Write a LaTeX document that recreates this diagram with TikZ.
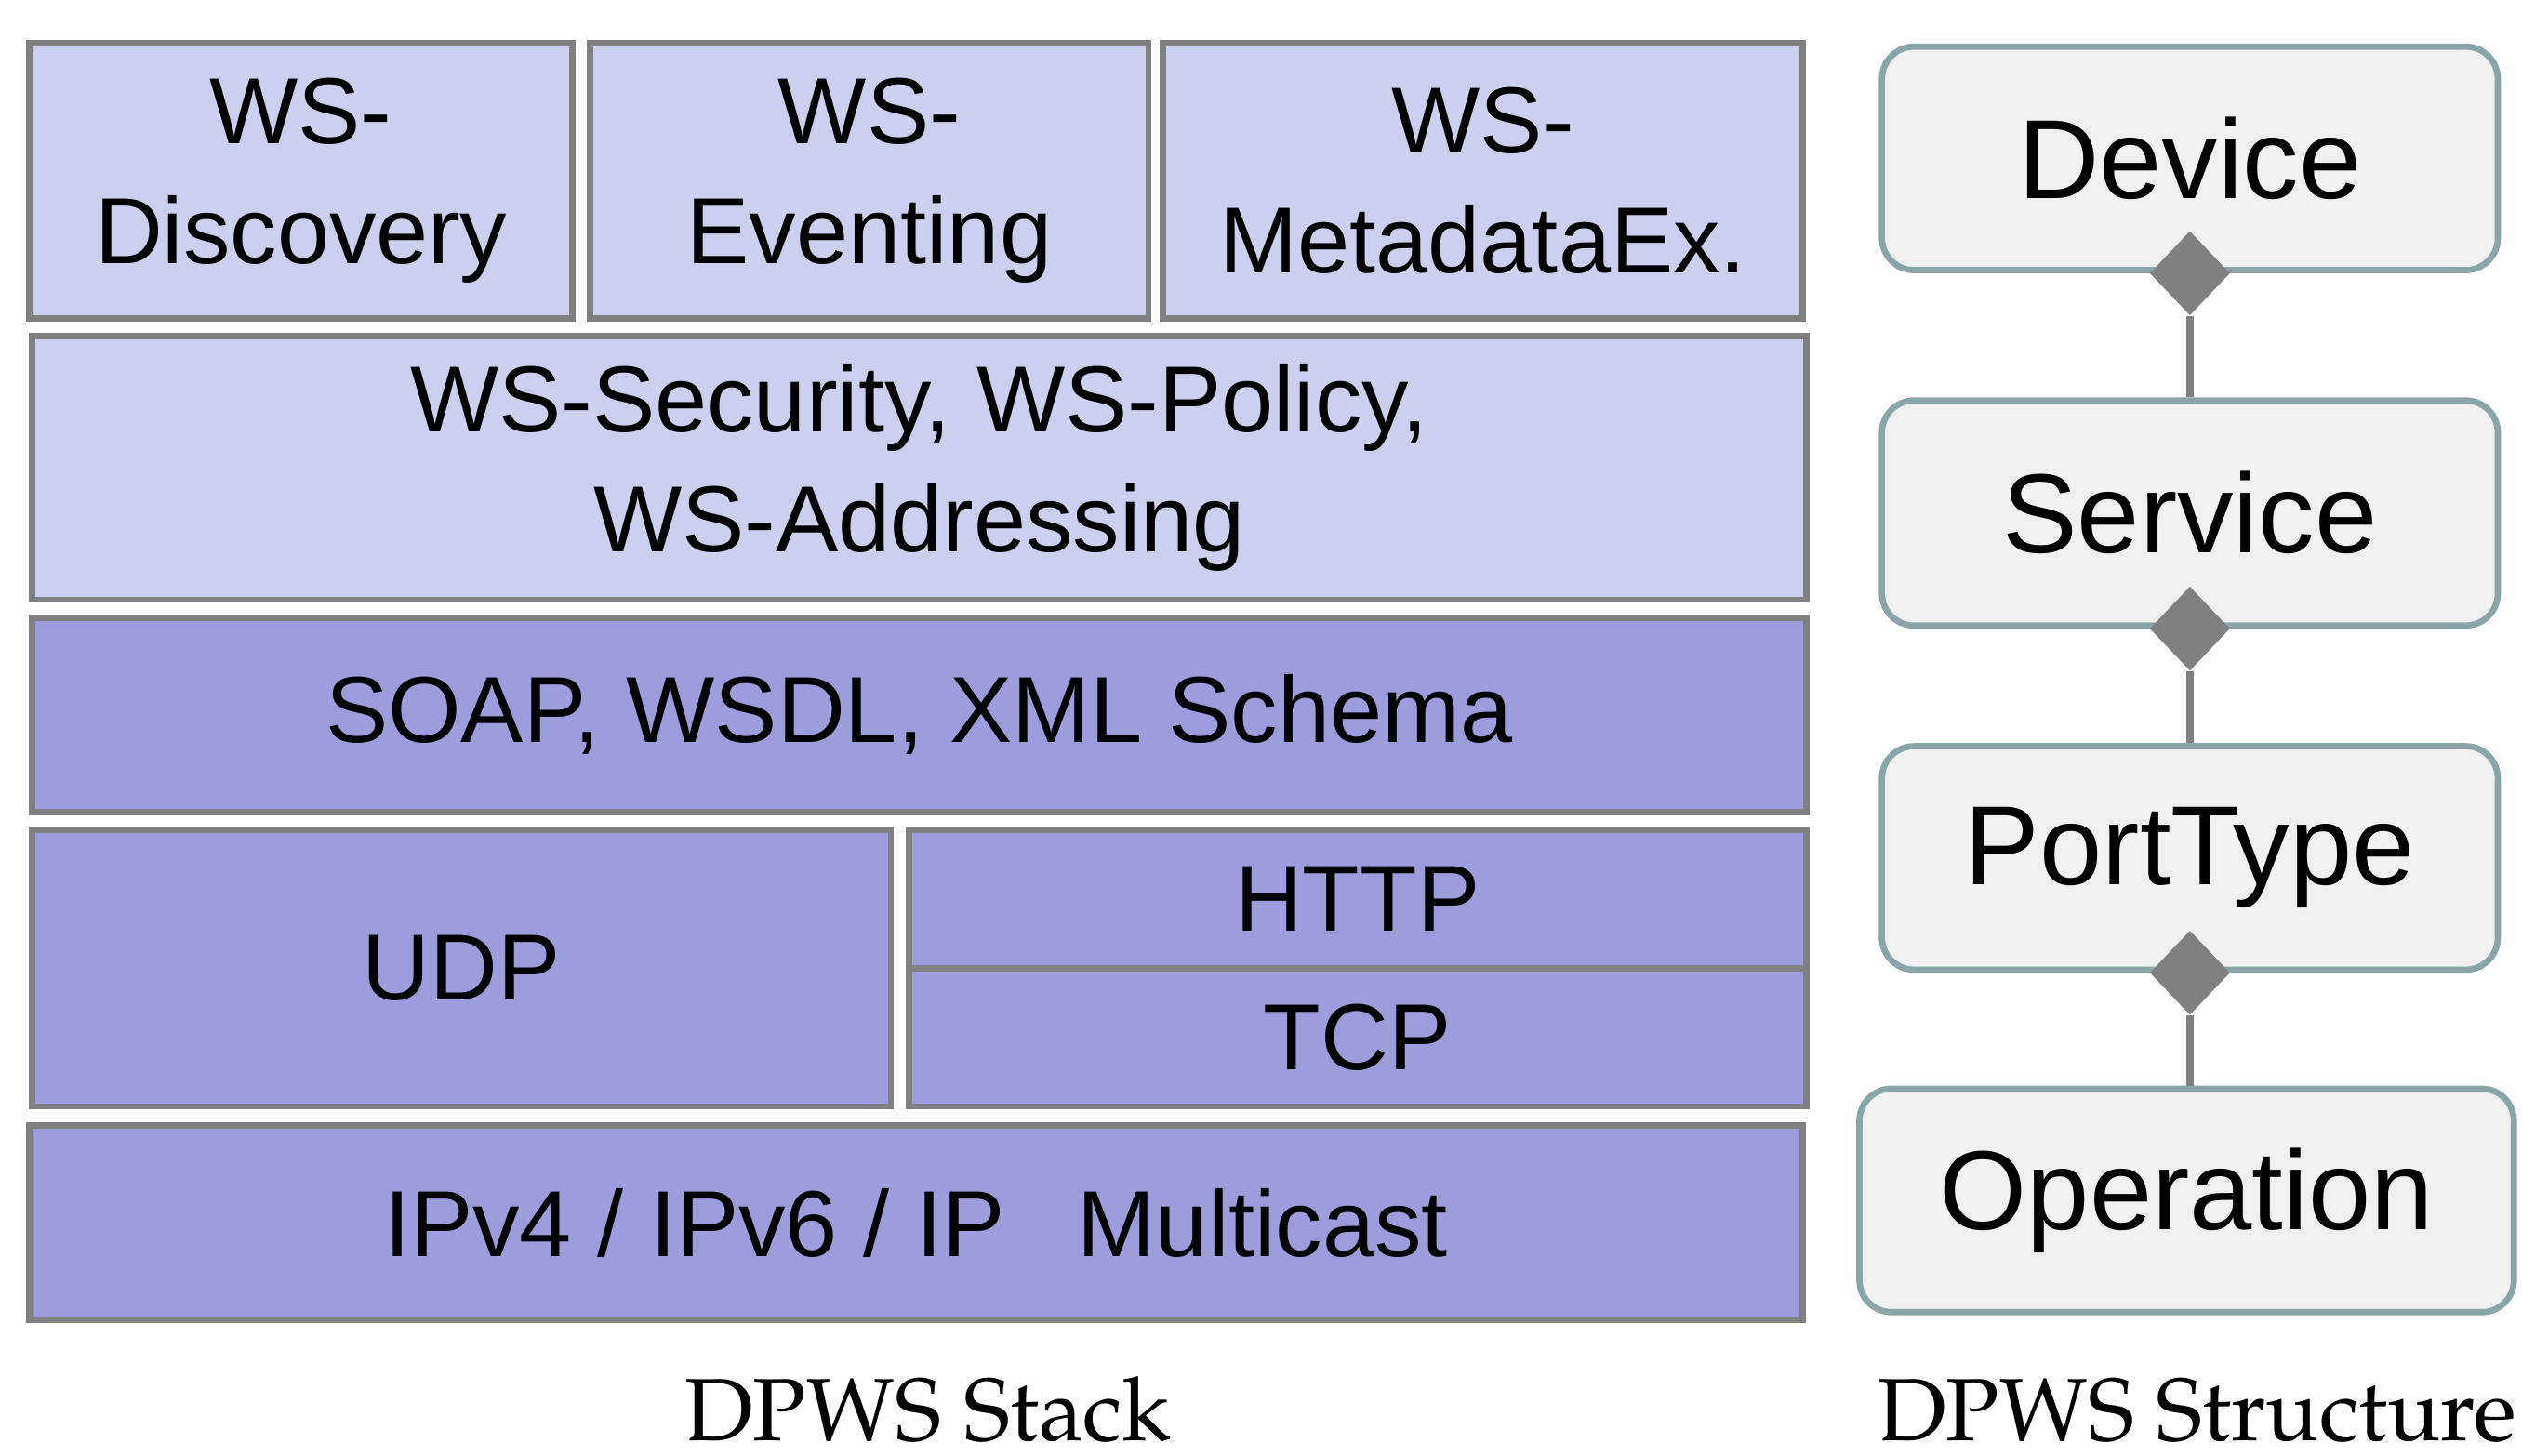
\documentclass[tikz,border=0pt]{standalone}
\usepackage[T1]{fontenc}
\usepackage{fontspec}
\setmainfont{Liberation Sans}
\usetikzlibrary{shapes.geometric}
\definecolor{lavlight}{RGB}{205,207,238}
\definecolor{lavdark}{RGB}{157,157,221}
\definecolor{bordgray}{RGB}{128,128,128}
\definecolor{strfill}{RGB}{240,240,240}
\definecolor{strbord}{RGB}{138,165,168}
\newcommand{\capfont}{\fontencoding{T1}\fontfamily{ppl}\selectfont}
\begin{document}
\begin{tikzpicture}[x=0.02cm,y=-0.02cm,
  layer/.style={draw=bordgray, line width=2.2pt, inner sep=0pt, align=center,
    font=\fontsize{33.2}{42.5}\selectfont},
  litelayer/.style={layer, fill=lavlight},
  darklayer/.style={layer, fill=lavdark},
  strbox/.style={draw=strbord, fill=strfill, line width=2.2pt, rounded corners=0.4cm,
    inner sep=0pt, font=\fontsize{39.8}{48}\selectfont},
  compo/.style={diamond, fill=bordgray, inner sep=0pt, minimum width=1cm, minimum height=1.05cm},
  conn/.style={draw=bordgray, line width=2.8pt},
  captxt/.style={inner sep=0pt, anchor=base, font=\capfont\fontsize{31.3}{38}\selectfont}
]
\useasboundingbox (0,0) rectangle (1568,905);

% DPWS stack
\node[litelayer, minimum width=6.76cm, minimum height=3.42cm] (wsd) at (187,112.5) {WS-\\Discovery};
\node[litelayer, minimum width=6.94cm, minimum height=3.42cm] (wse) at (540.5,112.5) {WS-\\Eventing};
\node[litelayer, minimum width=7.96cm, minimum height=3.42cm] (wsm) at (922,112.5) {WS-\\MetadataEx.};
\node[litelayer, minimum width=22.06cm, minimum height=3.28cm] (sec) at (571.5,291) {WS-Security, WS-Policy,\\WS-Addressing};
\node[darklayer, minimum width=22.06cm, minimum height=2.42cm] (soap) at (571.5,444.5) {SOAP, WSDL, XML Schema};
\node[darklayer, minimum width=10.68cm, minimum height=3.44cm] (udp) at (287,602) {UDP};
\node[darklayer, minimum width=11.16cm, minimum height=1.72cm] (http) at (844,559) {HTTP};
\node[darklayer, minimum width=11.16cm, minimum height=1.72cm] (tcp) at (844,645) {TCP};
\node[darklayer, minimum width=22.06cm, minimum height=2.42cm] (ip) at (569.5,760.5) {IPv4 / IPv6 / IP\hspace{0.5em} Multicast};

% DPWS structure
\node[strbox, minimum width=7.66cm, minimum height=2.78cm] (device) at (1361.5,98.5) {Device};
\node[strbox, minimum width=7.66cm, minimum height=2.8cm] (service) at (1361.5,319) {Service};
\node[strbox, minimum width=7.66cm, minimum height=2.78cm] (porttype) at (1361.5,533.5) {PortType};
\node[strbox, minimum width=8.14cm, minimum height=2.78cm] (operation) at (1359.5,746.5) {Operation};

\node[compo] (d1) at (device.south) {};
\node[compo] (d2) at (service.south) {};
\node[compo] (d3) at (porttype.south) {};

\draw[conn] (d1.south) -- (d1.south |- service.north);
\draw[conn] (d2.south) -- (d2.south |- porttype.north);
\draw[conn] (d3.south) -- (d3.south |- operation.north);

% captions
\node[captxt] (cap1) at (577,896) {DPWS Stack};
\node[captxt] (cap2) at (1366,896) {DPWS Structure};
\end{tikzpicture}
\end{document}
